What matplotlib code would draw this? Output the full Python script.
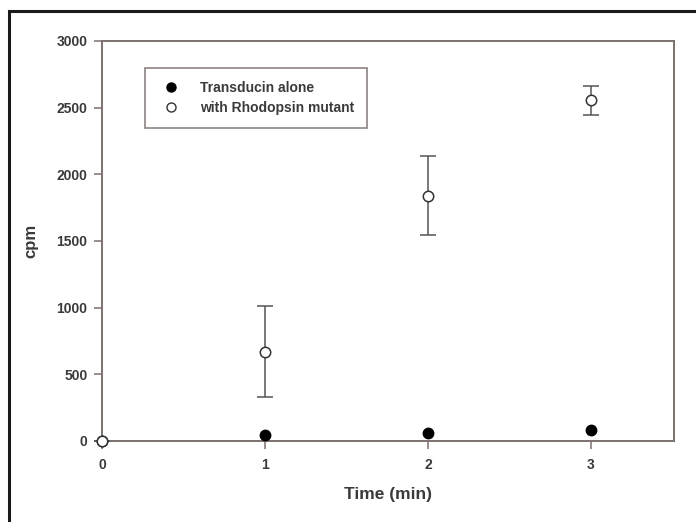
import matplotlib
matplotlib.use("Agg")
import matplotlib.pyplot as plt
from matplotlib.patches import Rectangle

time = [0, 1, 2, 3]
transducin_alone = [0, 47, 63, 81]
rhodopsin_mutant = [0, 670, 1840, 2555]
rhodopsin_err = [0, 343, 295, 110]
x_ticks = [0, 1, 2, 3]
y_ticks = [0, 500, 1000, 1500, 2000, 2500, 3000]

plt.rcParams['font.family'] = ['Liberation Sans', 'DejaVu Sans']
plt.rcParams['font.weight'] = 'bold'
plt.rcParams['axes.labelweight'] = 'bold'
axis_col = '#7d716f'
text_col = '#3a3a3a'

fig = plt.figure(figsize=(6.96, 5.22), dpi=100)
ax = fig.add_axes([102/696, 1-441/522, (674-102)/696, (441-41)/522])

ax.plot(time, transducin_alone, linestyle='none', marker='o', markersize=7.5,
        color='black', clip_on=False, zorder=3)
ax.errorbar(time, rhodopsin_mutant, yerr=rhodopsin_err, linestyle='none', marker='o',
            markersize=7.5, markerfacecolor='white', markeredgecolor='#333333',
            markeredgewidth=1.1, ecolor='#555555', elinewidth=1.1, capsize=5.5,
            capthick=1.1, clip_on=False, zorder=4)

ax.set_xlim(0, 3.51)
ax.set_ylim(0, 3000)
ax.set_xticks(x_ticks)
ax.set_yticks(y_ticks)
ax.tick_params(axis='both', direction='out', length=5.5, width=1.1, color=axis_col,
               labelsize=10, labelcolor=text_col)
ax.tick_params(axis='y', pad=5)
ax.tick_params(axis='x', pad=6.5)
for s in ax.spines.values():
    s.set_color(axis_col)
    s.set_linewidth(1.4)

ax.set_xlabel('Time (min)', fontsize=12.5, color=text_col, labelpad=11)
ax.set_ylabel('cpm', fontsize=12, color=text_col, labelpad=13)

h1, = ax.plot([], [], linestyle='none', marker='o', markersize=6.5, color='black')
h2, = ax.plot([], [], linestyle='none', marker='o', markersize=6.5, markerfacecolor='white',
              markeredgecolor='#333333')
leg = ax.legend([h1, h2], ['Transducin alone', 'with Rhodopsin mutant'],
                loc='upper left', bbox_to_anchor=((145-102)/572, 1-(68-41)/400),
                prop={'size': 10, 'weight': 'bold'}, frameon=True, fancybox=False,
                borderpad=0.95, handletextpad=1.1, labelspacing=0.4,
                borderaxespad=0, handlelength=1.9)
leg.get_frame().set_edgecolor(axis_col)
leg.get_frame().set_linewidth(1.3)
for t in leg.get_texts():
    t.set_color(text_col)

fig.patches.append(Rectangle((9/696, -0.05), 1.1, 1-11/522+0.05, transform=fig.transFigure,
                             fill=False, edgecolor='#1a1a1a', linewidth=2.2))

fig.savefig('out.png', dpi=100)
